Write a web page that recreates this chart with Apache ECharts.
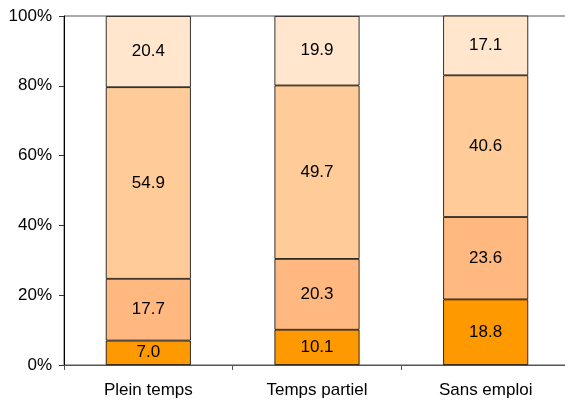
<!DOCTYPE html>
<html><head><meta charset="utf-8">
<script src="https://cdn.jsdelivr.net/npm/echarts@6/dist/echarts.min.js"></script>
<style>html,body{margin:0;padding:0;background:#fff;overflow:hidden}#c{width:570px;height:403px}</style>
</head><body><div id="c"></div>
<script>
var categories = ['Plein temps', 'Temps partiel', 'Sans emploi'];
var s1 = [7.0, 10.1, 18.8];
var s2 = [17.7, 20.3, 23.6];
var s3 = [54.9, 49.7, 40.6];
var s4 = [20.4, 19.9, 17.1];
var yTicks = [0, 20, 40, 60, 80, 100];
var colors = ['#FF9900', '#FFB880', '#FFCC99', '#FFE6CC'];
var font = 'Liberation Sans, Arial, sans-serif';

function mk(data, color) {
  return {
    type: 'bar', stack: 'a', data: data, barWidth: 85,
    itemStyle: { color: color, borderColor: '#000', borderWidth: 0.8 },
    label: { show: true, position: 'inside', color: '#000', fontSize: 17, fontFamily: font,
      formatter: function (p) { return p.value.toFixed(1); } },
    emphasis: { disabled: true }
  };
}
var chart = echarts.init(document.getElementById('c'), null, { renderer: 'canvas' });
chart.setOption({
  animation: false,
  grid: { left: 64, top: 16, right: 0, bottom: 38, show: true, borderColor: '#555', borderWidth: 1, backgroundColor: 'transparent' },
  xAxis: {
    type: 'category', data: categories,
    axisLine: { lineStyle: { color: '#555' } },
    axisTick: { show: true, length: 5, lineStyle: { color: '#555' } },
    axisLabel: { color: '#000', fontSize: 17, fontFamily: font, margin: 17 }
  },
  yAxis: {
    type: 'value', min: yTicks[0], max: yTicks[yTicks.length - 1], interval: 20,
    axisLine: { show: true, lineStyle: { color: '#000' } },
    axisTick: { show: true, length: 5, lineStyle: { color: '#333' } },
    splitLine: { show: false },
    axisLabel: { color: '#000', fontSize: 17, fontFamily: font, margin: 12, formatter: '{value}%' }
  },
  series: [mk(s1, colors[0]), mk(s2, colors[1]), mk(s3, colors[2]), mk(s4, colors[3])]
});
</script></body></html>
